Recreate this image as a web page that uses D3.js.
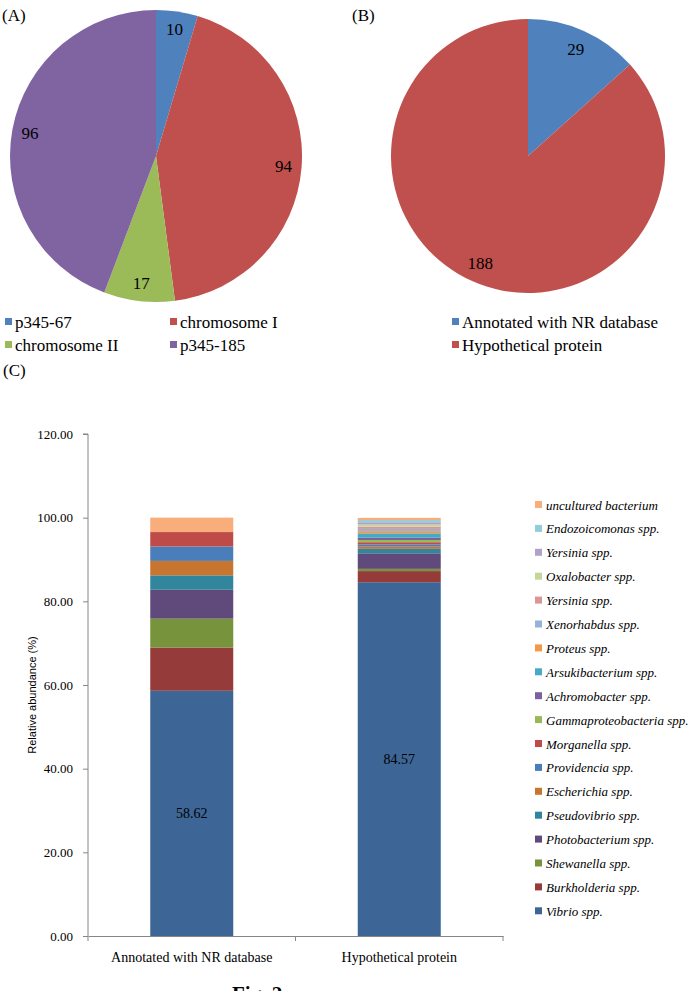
<!DOCTYPE html>
<html>
<head>
<meta charset="utf-8">
<script src="https://cdn.jsdelivr.net/npm/d3@7"></script>
<style>
  body { margin: 0; background: #fff; }
  svg text { font-family: "Liberation Serif", "Times New Roman", serif; fill: #000; }
</style>
</head>
<body>
<div class="chart"></div>
<script>
// (A) origin of genes
const pieALabels = ['p345-67', 'chromosome I', 'chromosome II', 'p345-185'];
const pieAValues = [10, 94, 17, 96];
const pieAColors = ['#4f81bd', '#c0504d', '#9bbb59', '#8064a2'];

// (B) annotation
const pieBLabels = ['Annotated with NR database', 'Hypothetical protein'];
const pieBValues = [29, 188];
const pieBColors = ['#4f81bd', '#c0504d'];

// (C) relative abundance of genera, bottom to top
const groups = ['Annotated with NR database', 'Hypothetical protein'];
const genera = ['Vibrio spp.', 'Burkholderia spp.', 'Shewanella spp.', 'Photobacterium spp.',
  'Pseudovibrio spp.', 'Escherichia spp.', 'Providencia spp.', 'Morganella spp.',
  'Gammaproteobacteria spp.', 'Achromobacter spp.', 'Arsukibacterium spp.', 'Proteus spp.',
  'Xenorhabdus spp.', 'Yersinia spp.', 'Oxalobacter spp.', 'Yersinia spp.',
  'Endozoicomonas spp.', 'uncultured bacterium'];
const annotatedPct = [58.62, 10.34, 6.90, 6.90, 3.45, 3.45, 3.45, 3.45,
  0, 0, 0, 0, 0, 0, 0, 0, 0, 3.45];
const hypotheticalPct = [84.57, 2.66, 0.53, 3.72, 1.06, 0.53, 0.53, 0.53,
  0.53, 0.53, 1.06, 0.53, 0.53, 0.53, 0.53, 0.53, 0.53, 0.53];
const generaColors = ['#3d6696', '#953b39', '#77933c', '#604a7b', '#31859c', '#c8752f',
  '#4a7ebb', '#be4b48', '#98b954', '#7d60a0', '#46aac5', '#f79646',
  '#95b3d7', '#da9694', '#c4d79b', '#b1a0c7', '#92cddc', '#f9ad7a'];
const yTicks = [0, 20, 40, 60, 80, 100, 120];

const w = 696;
const h = 991;
const svg = d3.select('.chart')
  .append('svg')
  .attr('width', w)
  .attr('height', h);

function drawPie(cx, cy, r, values, colors, labelR) {
  const pie = d3.pie().sort(null).value((d) => d);
  const arcs = pie(values);
  const arc = d3.arc().innerRadius(0).outerRadius(r);
  const labelArc = d3.arc().innerRadius(labelR).outerRadius(labelR);
  const g = svg.append('g').attr('transform', `translate(${cx}, ${cy})`);
  g.selectAll('path')
    .data(arcs)
    .enter()
    .append('path')
    .attr('d', arc)
    .attr('fill', (d, i) => colors[i]);
  g.selectAll('text')
    .data(arcs)
    .enter()
    .append('text')
    .attr('transform', (d) => `translate(${labelArc.centroid(d)})`)
    .attr('text-anchor', 'middle')
    .attr('dy', '0.35em')
    .style('font-size', '17px')
    .text((d) => d.data);
}

function drawLegend(items, colors, positions, size) {
  items.forEach((name, i) => {
    const [x, y] = positions[i];
    svg.append('rect')
      .attr('x', x).attr('y', y - 4)
      .attr('width', 7).attr('height', 7)
      .attr('fill', colors[i]);
    svg.append('text')
      .attr('x', x + 10).attr('y', y)
      .attr('dy', '0.35em')
      .style('font-size', size)
      .text(name);
  });
}

// panel labels
[['(A)', 2, 15], ['(B)', 352, 15], ['(C)', 3, 370]].forEach(([t, x, y]) => {
  svg.append('text').attr('x', x).attr('y', y).attr('dy', '0.35em')
    .style('font-size', '17px').text(t);
});

drawPie(156, 156, 146, pieAValues, pieAColors, 128);
drawLegend(pieALabels, pieAColors, [[5, 322], [170, 322], [5, 345], [170, 345]], '17px');

drawPie(528, 156, 137, pieBValues, pieBColors, 117);
drawLegend(pieBLabels, pieBColors, [[452, 322], [452, 345]], '17px');

// stacked bars
const margin = { left: 88, right: 503, top: 434, bottom: 936 };
const table = groups.map((g, gi) => {
  const row = { group: g };
  const vals = gi === 0 ? annotatedPct : hypotheticalPct;
  genera.forEach((s, i) => { row[i] = vals[i]; });
  return row;
});
const keys = genera.map((s, i) => i);
const series = d3.stack().keys(keys)(table);

const x = d3.scaleBand().domain(groups).range([margin.left, margin.right]);
const y = d3.scaleLinear().domain([0, 120]).range([margin.bottom, margin.top]);
const barW = x.bandwidth() * 0.4;

svg.append('g')
  .selectAll('g')
  .data(series)
  .enter()
  .append('g')
  .attr('fill', (d) => generaColors[d.key])
  .selectAll('rect')
  .data((d) => d)
  .enter()
  .append('rect')
  .attr('x', (d) => x(d.data.group) + (x.bandwidth() - barW) / 2)
  .attr('y', (d) => y(d[1]))
  .attr('width', barW)
  .attr('height', (d) => Math.max(0, y(d[0]) - y(d[1])));

// value labels on Vibrio segment
svg.append('g')
  .selectAll('text')
  .data(series[0])
  .enter()
  .append('text')
  .attr('x', (d) => x(d.data.group) + x.bandwidth() / 2)
  .attr('y', (d) => (y(d[0]) + y(d[1])) / 2)
  .attr('text-anchor', 'middle')
  .attr('dy', '0.35em')
  .style('font-size', '14px')
  .text((d) => d3.format('.2f')(d[1] - d[0]));

// y axis
const yAxis = svg.append('g')
  .attr('transform', `translate(${margin.left}, 0)`)
  .call(d3.axisLeft(y).tickValues(yTicks).tickFormat(d3.format('.2f')).tickSize(5).tickPadding(10));
yAxis.selectAll('path, line').attr('stroke', '#868686');
yAxis.select('.domain').attr('d', `M-5,${y(120)}H0V${y(0)}`);
yAxis.selectAll('text').style('font-size', '13px')
  .style('font-family', '"Liberation Serif", serif');

// x axis
const xAxis = svg.append('g')
  .attr('transform', `translate(0, ${margin.bottom})`)
  .call(d3.axisBottom(x).tickSize(0).tickPadding(16));
xAxis.select('.domain').attr('stroke', '#868686');
xAxis.selectAll('text').style('font-size', '14px')
  .style('font-family', '"Liberation Serif", serif');
xAxis.selectAll('.sep')
  .data([margin.left, ...groups.map((g) => x(g) + x.bandwidth())])
  .enter()
  .append('line')
  .attr('class', 'sep')
  .attr('x1', (d) => d).attr('x2', (d) => d)
  .attr('y1', 0).attr('y2', 5)
  .attr('stroke', '#868686');

svg.append('text')
  .attr('transform', `translate(32, ${(y(0) + y(120)) / 2 + 10}) rotate(-90)`)
  .attr('text-anchor', 'middle')
  .attr('dy', '0.35em')
  .style('font-family', '"Liberation Sans", Arial, sans-serif')
  .style('font-size', '11px')
  .text('Relative abundance (%)');

// legend C, top item is the last series
const legC = genera.map((s, i) => i).reverse();
legC.forEach((i, k) => {
  const ly = 505 + k * 23.9;
  svg.append('rect')
    .attr('x', 535).attr('y', ly - 4)
    .attr('width', 7).attr('height', 7)
    .attr('fill', generaColors[i]);
  svg.append('text')
    .attr('x', 546).attr('y', ly)
    .attr('dy', '0.35em')
    .style('font-size', '13px')
    .style('font-style', 'italic')
    .text(genera[i]);
});

// caption, cut off by the page edge
svg.append('text')
  .attr('x', 232).attr('y', 1001)
  .style('font-size', '21px')
  .style('font-weight', 'bold')
  .text('Fig. 2');
</script>
</body>
</html>
